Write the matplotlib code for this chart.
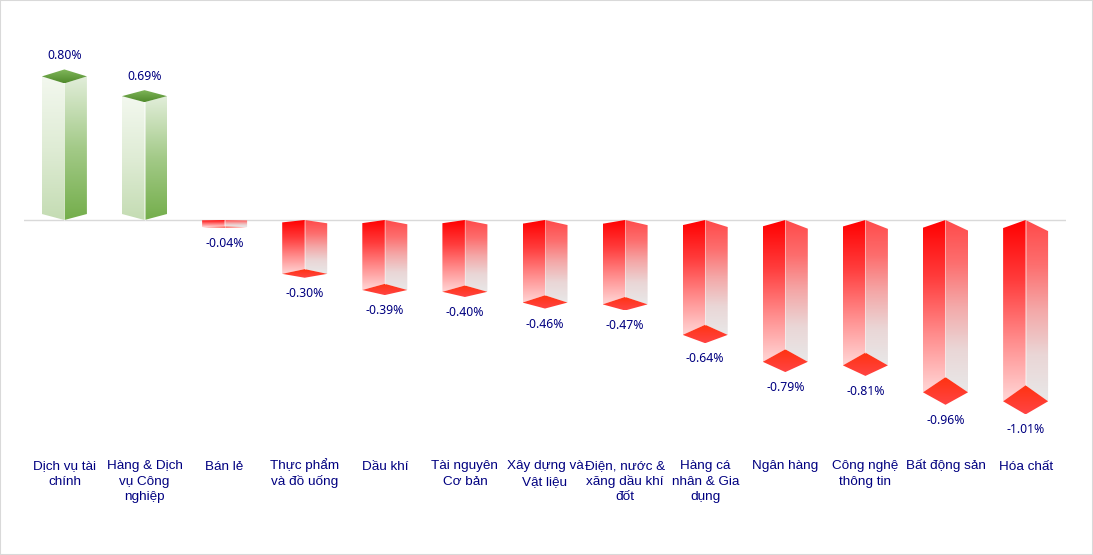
#!/usr/bin/env python3
"""Sector performance chart, drawn as faux 3D bars with gradient faces."""

import numpy as np
import matplotlib

matplotlib.use("Agg")
import matplotlib.pyplot as plt
from matplotlib.colors import LinearSegmentedColormap
from matplotlib.patches import Polygon, Rectangle

categories = [
    "Dịch vụ tài\nchính",
    "Hàng & Dịch\nvụ Công\nnghiệp",
    "Bán lẻ",
    "Thực phẩm\nvà đồ uống",
    "Dầu khí",
    "Tài nguyên\nCơ bản",
    "Xây dựng và\nVật liệu",
    "Điện, nước &\nxăng dầu khí\nđốt",
    "Hàng cá\nnhân & Gia\ndụng",
    "Ngân hàng",
    "Công nghệ\nthông tin",
    "Bất động sản",
    "Hóa chất",
]
changes = [0.80, 0.69, -0.04, -0.30, -0.39, -0.40, -0.46, -0.47, -0.64, -0.79, -0.81, -0.96, -1.01]

# Pixel geometry of the plot area
FIG_W, FIG_H = 1093, 555
AX_LEFT, AX_RIGHT, AX_TOP, AX_BOTTOM = 24, 1066, 20, 452
ZERO_Y = 220.0
FIRST_X = 64.4
STEP_X = 80.1
PX_PER_UNIT = 179.5
LINE_PX = 15.3
PT = 0.72  # points per pixel at dpi 100

HALF_W = 22.5 / STEP_X
PX = 1 / PX_PER_UNIT  # one pixel in value units

NAVY = "#000080"

GREEN_LEFT = ["#f3f8ef", "#dfecd5", "#c4dcb3"]
GREEN_RIGHT = ["#e2eeda", "#a3ca88", "#74ae4b"]
GREEN_CAP = ["#82b85c", "#508a2c"]
RED_LEFT = ["#ff0000", "#ff3c3c", "#ff8c8c", "#ffd6d6"]
RED_RIGHT = ["#ff4a4a", "#fd6e6e", "#f4a8a8", "#ead6d6", "#e8e8e8"]
RED_CAP = ["#ff3210", "#ff4444"]


def gradient_face(ax, xs, ys, colors):
    """Fill a polygon with a vertical gradient (first colour at the top)."""
    cmap = LinearSegmentedColormap.from_list("face", colors)
    grad = np.linspace(0, 1, 256).reshape(-1, 1)
    img = ax.imshow(
        grad,
        cmap=cmap,
        aspect="auto",
        origin="upper",
        extent=[min(xs), max(xs), min(ys), max(ys)],
        interpolation="bilinear",
        zorder=2,
    )
    poly = Polygon(np.column_stack([xs, ys]), closed=True, transform=ax.transData)
    img.set_clip_path(poly)


def draw_up_bar(ax, x, v):
    half = 8.7 * v * PX
    base = 6 * PX
    left, right = x - HALF_W, x + HALF_W
    gradient_face(ax, [left, x, x, left], [v, v - half, 0, base], GREEN_LEFT)
    gradient_face(ax, [x, right, right, x], [v - half, v, base, 0], GREEN_RIGHT)
    gradient_face(ax, [left, x, right, x], [v, v + half, v, v - half], GREEN_CAP)
    ax.plot([x, x], [0, v - half], color="white", alpha=0.5, lw=0.7, zorder=3)
    return v + half


def draw_down_bar(ax, x, v):
    d = abs(v)
    left, right = x - HALF_W, x + HALF_W
    top_left = -8 * d * PX
    top_right = -11 * d * PX
    apex = v + 15.8 * d * PX
    low = v - 13 * d * PX
    gradient_face(ax, [left, x, x, left], [top_left, 0, apex, v], RED_LEFT)
    gradient_face(ax, [x, right, right, x], [0, top_right, v, apex], RED_RIGHT)
    gradient_face(ax, [left, x, right, x], [v, apex, v, low], RED_CAP)
    ax.plot([x, x], [0, apex], color="white", alpha=0.35, lw=0.7, zorder=3)
    return low


def main():
    fig = plt.figure(figsize=(FIG_W / 100, FIG_H / 100), dpi=100, facecolor="white")
    ax = fig.add_axes([
        AX_LEFT / FIG_W,
        1 - AX_BOTTOM / FIG_H,
        (AX_RIGHT - AX_LEFT) / FIG_W,
        (AX_BOTTOM - AX_TOP) / FIG_H,
    ])

    positions = np.arange(len(categories))

    for x, v in zip(positions, changes):
        if v >= 0:
            tip = draw_up_bar(ax, x, v)
            offset = 13.5
        else:
            tip = draw_down_bar(ax, x, v)
            offset = -15.5
        ax.annotate(
            f"{v:.2f}%",
            (x, tip),
            xytext=(0, offset * PT),
            textcoords="offset points",
            ha="center",
            va="center",
            color=NAVY,
            fontsize=8.8,
            family="Noto Sans",
            zorder=4,
        )

    ax.axhline(0, color="#d9d9d9", lw=1, zorder=1)

    ax.set_xlim((AX_LEFT - FIRST_X) / STEP_X, (AX_RIGHT - FIRST_X) / STEP_X)
    ax.set_ylim((ZERO_Y - AX_BOTTOM) / PX_PER_UNIT, (ZERO_Y - AX_TOP) / PX_PER_UNIT)

    # One text per line so the baselines stay even whatever the accents do
    ax.set_xticks(positions)
    ax.set_xticklabels([])
    ax.tick_params(axis="x", length=0)
    for x, name in zip(positions, categories):
        for i, line in enumerate(name.split("\n")):
            ax.annotate(
                line,
                (x, 0),
                xycoords=ax.get_xaxis_transform(),
                xytext=(0, -(17.5 + i * LINE_PX) * PT),
                textcoords="offset points",
                ha="center",
                va="baseline",
                color=NAVY,
                fontsize=9.7,
                family="Liberation Sans",
            )
    ax.set_yticks([])
    for spine in ax.spines.values():
        spine.set_visible(False)

    # Grey frame round the whole picture
    fig.add_artist(Rectangle(
        (0, 0), 1, 1, transform=fig.transFigure, fill=False, edgecolor="#d9d9d9", linewidth=1.5
    ))

    fig.savefig("out.png", dpi=100)
    plt.close(fig)


if __name__ == "__main__":
    main()
